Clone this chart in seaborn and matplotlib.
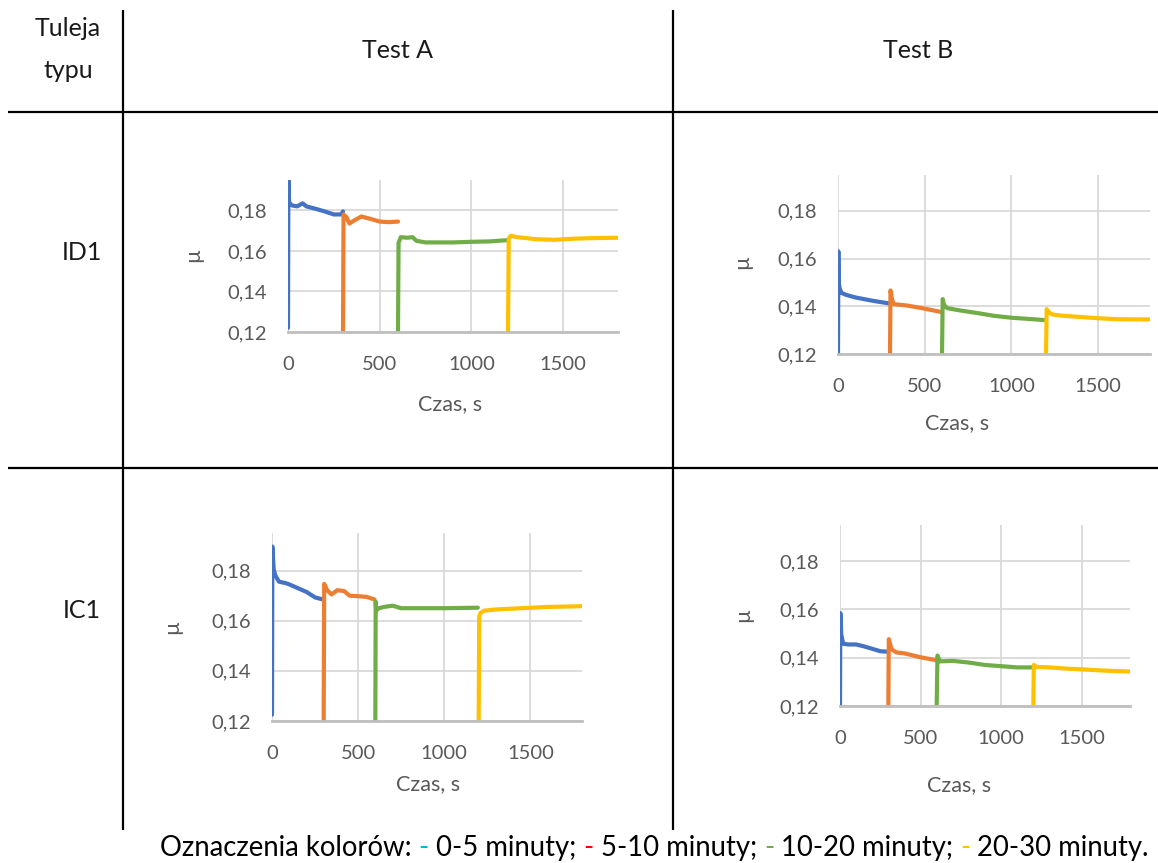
import pandas as pd
import matplotlib.pyplot as plt
import seaborn as sns

# segment names and colours (Excel palette)
segments = ['0-5', '5-10', '10-20', '20-30']
seg_colors = ['#4472C4', '#ED7D31', '#70AD47', '#FFC000']

x_ticks = [0, 500, 1000, 1500]
y_ticks = [0.12, 0.14, 0.16, 0.18]
y_tick_labels = ['0,12', '0,14', '0,16', '0,18']

# Test A, ID1
a_id1_blue_t = [0, 2, 6, 20, 50, 80, 100, 150, 200, 250, 290, 300]
a_id1_blue_mu = [0.122, 0.196, 0.184, 0.1825, 0.182, 0.1835, 0.182, 0.1808, 0.1795, 0.178, 0.178, 0.1795]
a_id1_orange_t = [300, 303, 320, 335, 360, 400, 450, 500, 550, 600]
a_id1_orange_mu = [0.12, 0.178, 0.1765, 0.1735, 0.175, 0.177, 0.1758, 0.1745, 0.1742, 0.1745]
a_id1_green_t = [600, 603, 615, 650, 680, 700, 750, 900, 1000, 1100, 1195]
a_id1_green_mu = [0.12, 0.164, 0.1668, 0.1665, 0.1668, 0.165, 0.1642, 0.1642, 0.1645, 0.1647, 0.1653]
a_id1_yellow_t = [1200, 1204, 1215, 1250, 1350, 1450, 1550, 1650, 1800]
a_id1_yellow_mu = [0.12, 0.166, 0.1675, 0.1668, 0.1658, 0.1655, 0.166, 0.1663, 0.1665]

# Test B, ID1
b_id1_blue_t = [0, 2, 4, 10, 20, 50, 100, 200, 295]
b_id1_blue_mu = [0.12, 0.163, 0.150, 0.1473, 0.1456, 0.1447, 0.1437, 0.1423, 0.1412]
b_id1_orange_t = [300, 303, 310, 320, 400, 500, 595]
b_id1_orange_mu = [0.12, 0.1466, 0.1435, 0.1409, 0.1403, 0.139, 0.1376]
b_id1_green_t = [600, 604, 612, 630, 700, 800, 900, 1000, 1100, 1195]
b_id1_green_mu = [0.12, 0.143, 0.1405, 0.1392, 0.1383, 0.1372, 0.136, 0.1352, 0.1347, 0.1342]
b_id1_yellow_t = [1200, 1204, 1215, 1240, 1300, 1400, 1500, 1600, 1700, 1800]
b_id1_yellow_mu = [0.12, 0.1388, 0.1375, 0.1365, 0.136, 0.1355, 0.135, 0.1346, 0.1345, 0.1345]

# Test A, IC1
a_ic1_blue_t = [0, 2, 5, 10, 20, 40, 80, 100, 150, 200, 250, 295]
a_ic1_blue_mu = [0.1225, 0.1896, 0.186, 0.1803, 0.178, 0.1756, 0.175, 0.1745, 0.173, 0.1715, 0.1693, 0.1685]
a_ic1_orange_t = [300, 303, 320, 345, 380, 420, 450, 500, 550, 595]
a_ic1_orange_mu = [0.12, 0.1747, 0.1722, 0.1705, 0.1722, 0.1718, 0.170, 0.1698, 0.1695, 0.1685]
a_ic1_green_t = [600, 602, 605, 620, 650, 700, 750, 1000, 1195]
a_ic1_green_mu = [0.12, 0.1676, 0.164, 0.165, 0.1655, 0.166, 0.165, 0.165, 0.1652]
a_ic1_yellow_t = [1200, 1203, 1210, 1230, 1300, 1450, 1600, 1800]
a_ic1_yellow_mu = [0.12, 0.1616, 0.163, 0.164, 0.1645, 0.165, 0.1655, 0.1658]

# Test B, IC1
b_ic1_blue_t = [0, 2, 8, 20, 50, 100, 150, 200, 250, 295]
b_ic1_blue_mu = [0.12, 0.1585, 0.1494, 0.1458, 0.1455, 0.1455, 0.1447, 0.1437, 0.1427, 0.1425]
b_ic1_orange_t = [300, 303, 320, 350, 400, 450, 500, 595]
b_ic1_orange_mu = [0.12, 0.1477, 0.1435, 0.1422, 0.1418, 0.141, 0.1402, 0.139]
b_ic1_green_t = [600, 605, 620, 700, 800, 900, 1000, 1100, 1195]
b_ic1_green_mu = [0.12, 0.1409, 0.1385, 0.1387, 0.138, 0.137, 0.1365, 0.136, 0.136]
b_ic1_yellow_t = [1200, 1203, 1220, 1300, 1400, 1500, 1600, 1700, 1800]
b_ic1_yellow_mu = [0.12, 0.137, 0.1362, 0.136, 0.1355, 0.1352, 0.1348, 0.1345, 0.1343]


def make_frame(ts, mus):
    parts = []
    for seg, t, mu in zip(segments, ts, mus):
        parts.append(pd.DataFrame({'Czas': t, 'mu': mu, 'seg': seg}))
    return pd.concat(parts, ignore_index=True)


panels = [
    make_frame([a_id1_blue_t, a_id1_orange_t, a_id1_green_t, a_id1_yellow_t],
               [a_id1_blue_mu, a_id1_orange_mu, a_id1_green_mu, a_id1_yellow_mu]),
    make_frame([b_id1_blue_t, b_id1_orange_t, b_id1_green_t, b_id1_yellow_t],
               [b_id1_blue_mu, b_id1_orange_mu, b_id1_green_mu, b_id1_yellow_mu]),
    make_frame([a_ic1_blue_t, a_ic1_orange_t, a_ic1_green_t, a_ic1_yellow_t],
               [a_ic1_blue_mu, a_ic1_orange_mu, a_ic1_green_mu, a_ic1_yellow_mu]),
    make_frame([b_ic1_blue_t, b_ic1_orange_t, b_ic1_green_t, b_ic1_yellow_t],
               [b_ic1_blue_mu, b_ic1_orange_mu, b_ic1_green_mu, b_ic1_yellow_mu]),
]

# plot areas in pixels: left, top, right, bottom ; label centres
boxes = [(288, 180, 618, 332), (838, 175, 1150, 354), (272, 533, 582, 721), (840, 525, 1130, 706)]
xlabel_pos = [(450, 404), (957, 423), (428, 784), (959, 785)]
ylabel_pos = [(193, 255), (742, 262), (172, 627), (743, 615)]

W, H = 1158, 863

sns.set_theme(style='white')
plt.rcParams['font.family'] = ['Lato', 'DejaVu Sans']

fig = plt.figure(figsize=(W / 100, H / 100), dpi=100)
fig.patch.set_facecolor('white')

# table frame and headings
bg = fig.add_axes([0, 0, 1, 1])
bg.set_xlim(0, W)
bg.set_ylim(H, 0)
bg.axis('off')
line_kw = dict(color='black', lw=1.6, solid_capstyle='butt')
bg.plot([123, 123], [10, 830], **line_kw)
bg.plot([673, 673], [10, 830], **line_kw)
bg.plot([8, 1158], [112, 112], **line_kw)
bg.plot([8, 1158], [468, 468], **line_kw)

head_kw = dict(fontsize=18, color='#1a1a1a', ha='center', va='center')
bg.text(68, 28, 'Tuleja', **head_kw)
bg.text(68, 70, 'typu', **head_kw)
bg.text(398, 50, 'Test A', **head_kw)
bg.text(918, 50, 'Test B', **head_kw)
bg.text(82, 252, 'ID1', **head_kw)
bg.text(82, 610, 'IC1', **head_kw)

for df, (l, t, r, b), xl, yl in zip(panels, boxes, xlabel_pos, ylabel_pos):
    w, h = r - l, b - t
    ax = fig.add_axes([l / W, 1 - b / H, w / W, h / H])
    sns.lineplot(data=df, x='Czas', y='mu', hue='seg', palette=seg_colors,
                 estimator=None, sort=False, legend=False, lw=3, ax=ax)
    ax.set_xlim(0, 1800)
    ax.set_ylim(0.12, 0.195)
    ax.set_xticks(x_ticks)
    ax.set_yticks(y_ticks)
    ax.set_yticklabels(y_tick_labels)
    ax.grid(True, color='#D9D9D9', lw=1.3)
    ax.set_axisbelow(True)
    for s in ['top', 'right', 'left']:
        ax.spines[s].set_visible(False)
    ax.spines['bottom'].set_color('#BFBFBF')
    ax.spines['bottom'].set_linewidth(2)
    ax.tick_params(length=0, labelsize=14.5, labelcolor='#595959')
    ax.tick_params(axis='x', pad=17)
    ax.tick_params(axis='y', pad=15)
    ax.set_xlabel('Czas, s', fontsize=15.5, color='#595959')
    ax.set_ylabel('µ', fontsize=15.5, color='#595959')
    ax.xaxis.label.set_va('center')
    ax.yaxis.label.set_va('center')
    ax.xaxis.set_label_coords((xl[0] - l) / w, (b - xl[1]) / h)
    ax.yaxis.set_label_coords((yl[0] - l) / w, (b - yl[1]) / h)

# caption with coloured dashes
pieces = [('Oznaczenia kolorów: ', 'black'), ('-', '#00B0F0'), (' 0-5 minuty; ', 'black'),
          ('-', '#FF0000'), (' 5-10 minuty; ', 'black'), ('-', '#70AD47'),
          (' 10-20 minuty; ', 'black'), ('-', '#FFC000'), (' 20-30 minuty.', 'black')]
prev = bg.text(160, 856, pieces[0][0], fontsize=19.8, color=pieces[0][1], ha='left', va='baseline')
for txt, col in pieces[1:]:
    prev = bg.annotate(txt, xy=(1, 0), xycoords=prev, fontsize=19.8, color=col,
                       ha='left', va='bottom')

fig.savefig('out.png', dpi=100, facecolor='white')
